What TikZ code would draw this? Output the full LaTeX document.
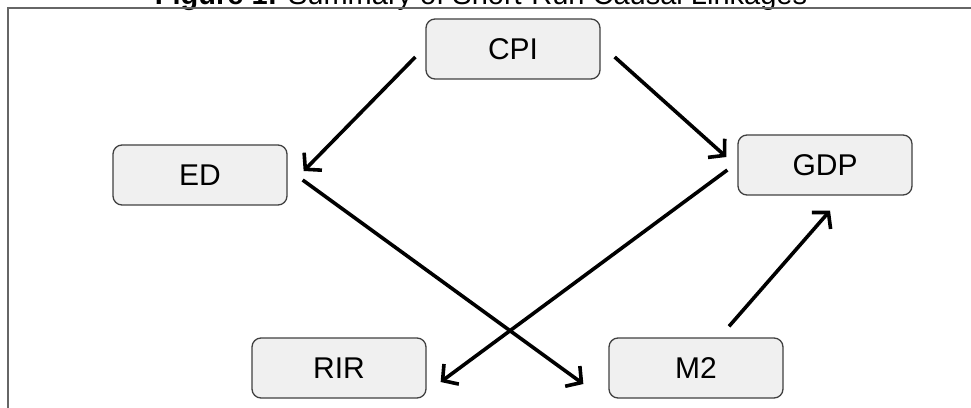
\documentclass[tikz,border=0pt]{standalone}
\usepackage{fontspec}
\setmainfont{Liberation Sans}
\usetikzlibrary{arrows.meta}
\begin{document}
\begin{tikzpicture}[x=1pt,y=1pt,
  box/.style={draw=black!75, line width=1.3pt, fill=black!6, rounded corners=9pt,
    minimum width=174pt, minimum height=60pt, inner sep=0pt,
    font=\fontsize{30}{34}\selectfont},
  arr/.style={line width=3.6pt, -{Straight Barb[length=11pt,width=25pt,line width=3.6pt]}},
  frame/.style={draw=black!60, line width=2pt}]
\useasboundingbox (0,0) rectangle (971,407);
\clip (0,0) rectangle (971,407);
\node[anchor=base, font=\fontsize{29}{33}\selectfont] (title) at (481,402)
  {\textbf{Figure 1:} Summary of Short-Run Causal Linkages};
\coordinate (ftl) at (8,399);
\coordinate (ftr) at (975,399);
\coordinate (fbl) at (8,-5);
\draw[frame] (ftr) -- (ftl) -- (fbl);
\node[box] (cpi) at (513,358) {CPI};
\node[box] (ed) at (200,232) {ED};
\node[box] (gdp) at (825,242) {GDP};
\node[box] (rir) at (339,39) {RIR};
\node[box] (m2) at (696,39) {M2};
\draw[arr] ([xshift=-10pt,yshift=-8pt]cpi.west) -- ([xshift=16pt,yshift=4pt]ed.east);
\draw[arr] ([xshift=14pt,yshift=-8pt]cpi.east) -- ([xshift=-11pt,yshift=8pt]gdp.west);
\draw[arr] ([xshift=15pt,yshift=-5pt]ed.east) -- ([xshift=-25pt,yshift=-16pt]m2.west);
\draw[arr] ([xshift=-10pt,yshift=-5pt]gdp.west) -- ([xshift=14pt,yshift=-14pt]rir.east);
\draw[arr] ([xshift=33pt,yshift=11pt]m2.north) -- ([xshift=5pt,yshift=-15pt]gdp.south);
\end{tikzpicture}
\end{document}
